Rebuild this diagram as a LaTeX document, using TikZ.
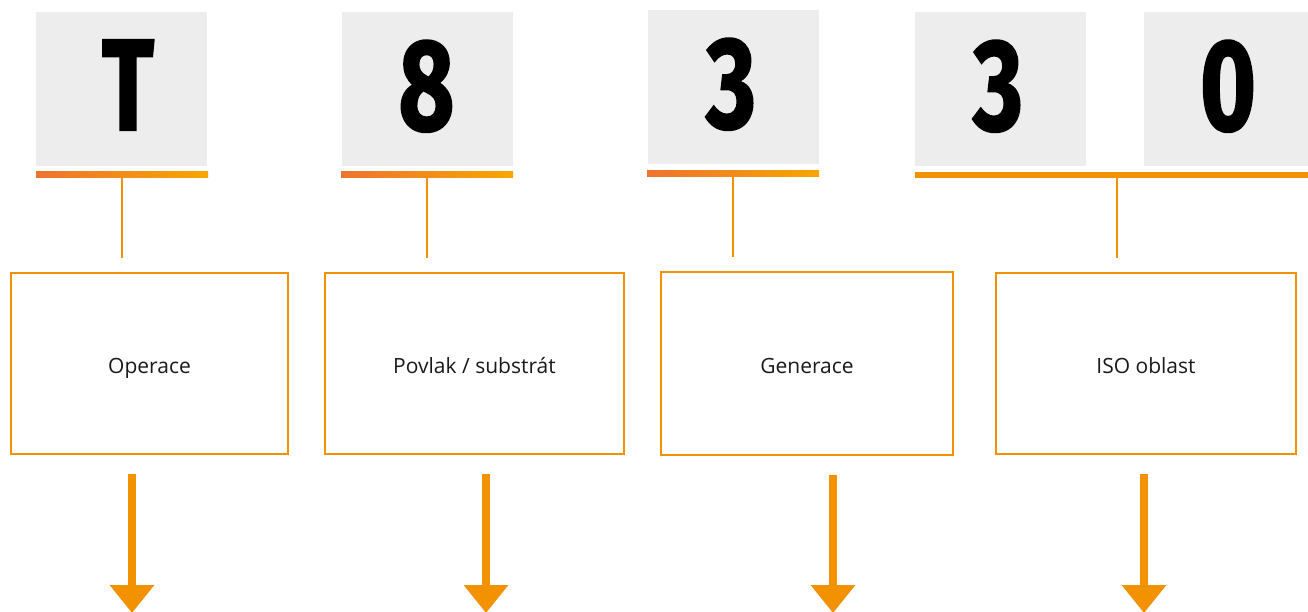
\documentclass[tikz,border=0pt]{standalone}
\usepackage{fontspec}
\setmainfont{Open Sans}
\newfontfamily\digitfont[BoldFeatures={FakeBold=1.6}]{Fira Sans}
\usetikzlibrary{arrows.meta}

\definecolor{codeorange}{HTML}{F39200}
\definecolor{codered}{HTML}{EE7331}
\definecolor{codeyellow}{HTML}{F6A600}
\definecolor{codegrey}{HTML}{EDEDED}

% one big condensed character of the code
\newcommand{\codechar}[1]{\scalebox{0.74}[1]{\digitfont\bfseries\fontsize{130}{130}\selectfont #1}}

\begin{document}
\begin{tikzpicture}[x=1pt,y=-1pt,
  charbox/.style={fill=codegrey,minimum width=171pt,minimum height=154pt,inner sep=0pt},
  fadebar/.style={left color=codered,right color=codeyellow,minimum height=6pt,inner sep=0pt},
  flatbar/.style={fill=codeorange,minimum height=6pt,inner sep=0pt},
  stem/.style={codeorange,line width=2.2pt,shorten >=14pt},
  meaning/.style={draw=codeorange,line width=2pt,inner sep=0pt,
    text height=22pt,text depth=3pt,
    font=\fontsize{21}{25}\selectfont,text=black!90},
  bigarrow/.style={codeorange,line width=8pt,shorten <=19pt,
    -{Triangle[width=43pt,length=28pt]}},
  ]
\useasboundingbox (0,0) rectangle (1308,612);

% CHARACTERS
\node[charbox] (gT) at (121.5,89) {};
\node[anchor=base] (cT) at (128,130) {\codechar{T}};

\node[charbox] (g8) at (427.5,89) {};
\node[anchor=base] (c8) at (426.5,130) {\codechar{8}};

\node[charbox] (g3) at (733.5,87) {};
\node[anchor=base] (c3) at (731,128) {\codechar{3}};

\node[charbox] (g3b) at (1000.5,89) {};
\node[anchor=base] (c3b) at (998,130) {\codechar{3}};

\node[charbox] (g0) at (1229.5,89) {};
\node[anchor=base] (c0) at (1228,130) {\codechar{0}};

% BARS
\node[fadebar,minimum width=172pt] (b1) at (122,175) {};
\node[fadebar,minimum width=172pt] (b2) at (427,175) {};
\node[fadebar,minimum width=172pt] (b3) at (733,173.5) {};
\node[flatbar,minimum width=404pt] (b4) at (1117,175) {};

% MEANINGS
\node[meaning,minimum width=277pt,minimum height=181pt] (op) at (149.5,363.5) {Operace};
\node[meaning,minimum width=299pt,minimum height=181pt] (pov) at (474.5,363.5) {Povlak / substrát};
\node[meaning,minimum width=292pt,minimum height=183pt] (gen) at (807,363.5) {Generace};
\node[meaning,minimum width=300pt,minimum height=181pt] (iso) at (1146,363.5) {ISO oblast};

% STEMS
\draw[stem] (b1.south) -- (b1.south |- op.north);
\draw[stem] (b2.south) -- (b2.south |- pov.north);
\draw[stem] (b3.south) -- (b3.south |- gen.north);
\draw[stem] (b4.south) -- (b4.south |- iso.north);

% ARROWS
\coordinate (e1) at (132,613);
\coordinate (e2) at (486,613);
\coordinate (e3) at (833,613);
\coordinate (e4) at (1144,613);

\draw[bigarrow] (e1 |- op.south) -- (e1);
\draw[bigarrow] (e2 |- pov.south) -- (e2);
\draw[bigarrow] (e3 |- gen.south) -- (e3);
\draw[bigarrow] (e4 |- iso.south) -- (e4);

\end{tikzpicture}
\end{document}
